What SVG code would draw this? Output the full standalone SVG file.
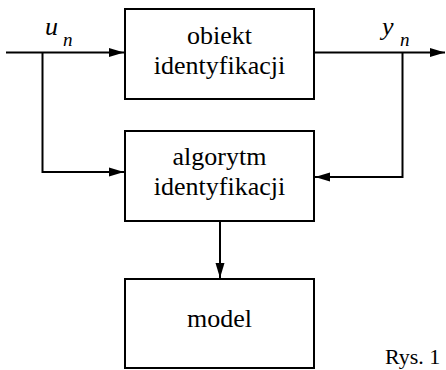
<svg xmlns="http://www.w3.org/2000/svg" width="446" height="370" viewBox="0 0 446 370">
<style>
.box{fill:#fff;stroke:#000;stroke-width:2}
.t{font-family:'Times New Roman',Times,'Liberation Serif','Noto Serif',serif;font-size:26px;fill:#000;text-anchor:middle}
.lbl{font-family:'Times New Roman',Times,'Liberation Serif','Noto Serif',serif;font-style:italic;fill:#000}
.ln{fill:none;stroke:#000;stroke-width:2}
</style>
<defs>
<marker id="ah" markerUnits="userSpaceOnUse" markerWidth="16" markerHeight="10" refX="15" refY="5" orient="auto">
<path d="M0,0.5 L15,5 L0,9.5 Z" fill="#000"/>
</marker>
</defs>
<g id="connectors">
<path class="ln" d="M6,52.5 H124" marker-end="url(#ah)"/>
<path class="ln" d="M42.5,52.5 V172 H124" marker-end="url(#ah)"/>
<path class="ln" d="M314,52.5 H445" marker-end="url(#ah)"/>
<path class="ln" d="M402.5,52.5 V177 H315" marker-end="url(#ah)"/>
<path class="ln" d="M220,221 V278" marker-end="url(#ah)"/>
</g>
<g id="obiekt">
<rect class="box" x="125" y="9" width="189" height="90"/>
<text class="t" x="219.5" y="44">obiekt</text>
<text class="t" x="219.5" y="74">identyfikacji</text>
</g>
<g id="algorytm">
<rect class="box" x="125" y="131" width="189" height="90"/>
<text class="t" x="219.5" y="164.5">algorytm</text>
<text class="t" x="219.5" y="195">identyfikacji</text>
</g>
<g id="model">
<rect class="box" x="125" y="279" width="189" height="89"/>
<text class="t" x="219.5" y="327">model</text>
</g>
<g id="labels">
<text class="lbl" x="45" y="35" font-size="26">u</text>
<text class="lbl" x="63" y="45.5" font-size="19">n</text>
<text class="lbl" x="382" y="35" font-size="26">y</text>
<text class="lbl" x="400" y="45.5" font-size="19">n</text>
<text class="t" x="385" y="364" style="text-anchor:start;font-size:22px">Rys. 1</text>
</g>
</svg>
